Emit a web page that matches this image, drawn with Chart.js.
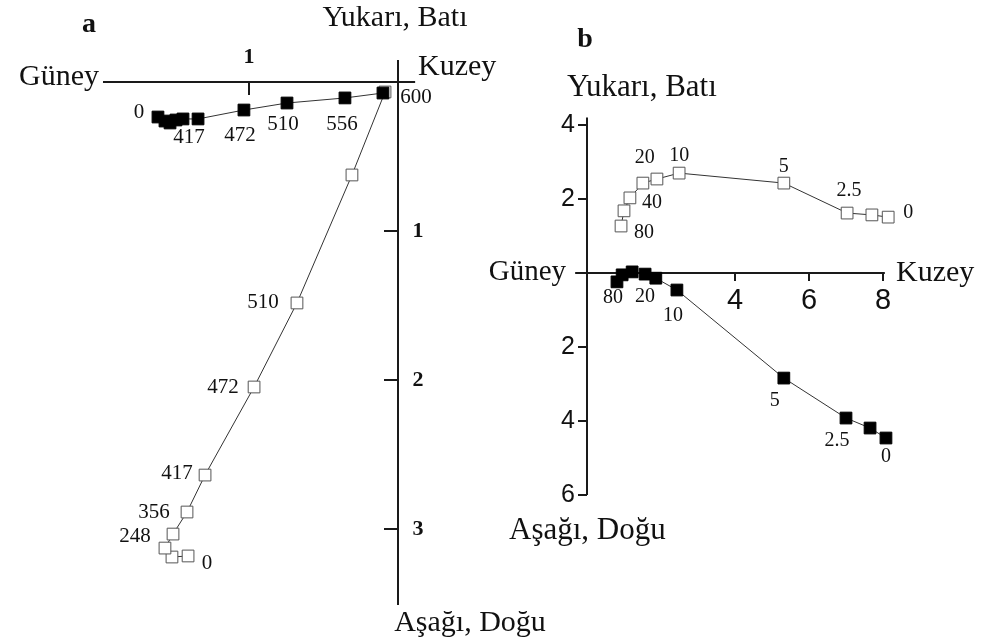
<!DOCTYPE html>
<html>
<head>
<meta charset="utf-8">
<script src="https://cdn.jsdelivr.net/npm/chart.js@4.4.1/dist/chart.umd.min.js"></script>
<style>
  body { margin: 0; background: #fff; }
  #wrap { position: relative; width: 981px; height: 640px; overflow: hidden; }
  canvas { position: absolute; left: 0; top: 0; }
</style>
</head>
<body>
<div id="wrap">
  <canvas id="chartA" width="981" height="640"></canvas>
  <canvas id="chartB" width="981" height="640"></canvas>
</div>
<script>
// a: termal temizleme (°C)
const aBlackLabels = ['0', '', '', '', '', '417', '472', '510', '556', '600'];
const aBlackN = [-1.611, -1.564, -1.530, -1.490, -1.443, -1.342, -1.034, -0.745, -0.356, -0.101];
const aBlackW = [-0.235, -0.262, -0.275, -0.255, -0.248, -0.248, -0.188, -0.141, -0.107, -0.074];
const aWhiteLabels = ['0', '', '', '248', '356', '417', '472', '510', '', ''];
const aWhiteN = [-1.409, -1.517, -1.564, -1.510, -1.416, -1.295, -0.966, -0.678, -0.309, -0.087];
const aWhiteUp = [-3.181, -3.188, -3.128, -3.034, -2.886, -2.638, -2.047, -1.483, -0.624, -0.067];
const aTicksH = [-1];
const aTicksV = [-1, -2, -3];

// b: AF temizleme (mT)
const bBlackLabels = ['0', '', '2.5', '5', '10', '', '20', '', '', '80'];
const bBlackN = [8.08, 7.65, 7.00, 5.32, 2.43, 1.86, 1.57, 1.22, 0.95, 0.81];
const bBlackW = [-4.46, -4.19, -3.92, -2.84, -0.46, -0.14, -0.03, 0.03, -0.05, -0.24];
const bWhiteLabels = ['0', '', '2.5', '5', '10', '', '20', '40', '', '80'];
const bWhiteN = [8.14, 7.70, 7.03, 5.32, 2.49, 1.89, 1.51, 1.16, 1.00, 0.92];
const bWhiteUp = [1.51, 1.57, 1.62, 2.43, 2.70, 2.54, 2.43, 2.03, 1.68, 1.27];
const bTicksH = [4, 6, 8];
const bTicksV = [4, 2, -2, -4, -6];

const SERIF = '"Liberation Serif", "DejaVu Serif", serif';
const SANS = '"Liberation Sans", Arial, sans-serif';

function pts(xs, ys) {
    return xs.map((x, i) => ({ x: x, y: ys[i] }));
}

// eksenler, etiketler ve başlıklar
const zijPlugin = {
    id: 'zij',
    beforeDatasetsDraw(chart, args, o) {
        const ctx = chart.ctx;
        const sx = chart.scales.x, sy = chart.scales.y;
        const ox = sx.getPixelForValue(0), oy = sy.getPixelForValue(0);
        ctx.save();
        ctx.strokeStyle = '#1a1a1a';
        ctx.lineWidth = 2;
        ctx.beginPath();
        ctx.moveTo(sx.getPixelForValue(o.hAxis[0]), oy);
        ctx.lineTo(sx.getPixelForValue(o.hAxis[1]), oy);
        ctx.moveTo(ox, sy.getPixelForValue(o.vAxis[0]));
        ctx.lineTo(ox, sy.getPixelForValue(o.vAxis[1]));
        o.hTicks.forEach(t => {
            const px = sx.getPixelForValue(t);
            ctx.moveTo(px, oy);
            ctx.lineTo(px, oy + o.hTickLen);
        });
        o.vTicks.forEach(t => {
            const py = sy.getPixelForValue(t);
            ctx.moveTo(ox, py);
            ctx.lineTo(ox + o.vTickLen, py);
        });
        ctx.stroke();
        ctx.restore();
    },
    afterDatasetsDraw(chart, args, o) {
        const ctx = chart.ctx;
        const sx = chart.scales.x, sy = chart.scales.y;
        const ox = sx.getPixelForValue(0), oy = sy.getPixelForValue(0);
        ctx.save();
        ctx.fillStyle = '#111';
        ctx.textBaseline = 'middle';

        // tick labels
        ctx.font = o.hTickFont;
        ctx.textAlign = 'center';
        o.hTicks.forEach(t => {
            ctx.fillText(String(Math.abs(t)), sx.getPixelForValue(t), oy + o.hTickLabelDy);
        });
        ctx.font = o.vTickFont;
        ctx.textAlign = o.vTickAlign;
        o.vTicks.forEach(t => {
            ctx.fillText(String(Math.abs(t)), ox + o.vTickLabelDx, sy.getPixelForValue(t));
        });

        // axis titles
        o.titles.forEach(t => {
            ctx.font = t.font;
            ctx.textAlign = t.align;
            ctx.fillText(t.text, t.x, t.y);
        });

        // step labels
        ctx.font = o.labelFont;
        ctx.textAlign = 'center';
        chart.data.datasets.forEach((ds, i) => {
            const meta = chart.getDatasetMeta(i);
            ds.stepLabels.forEach((lab, j) => {
                if (!lab) return;
                const el = meta.data[j];
                const off = ds.labelOffsets[lab] || [0, 0];
                ctx.fillText(lab, el.x + off[0], el.y + off[1]);
            });
        });
        ctx.restore();
    }
};

function makePanel(id, black, white, axes) {
    const ctx = document.getElementById(id).getContext('2d');
    return new Chart(ctx, {
        type: 'scatter',
        data: {
            datasets: [black, white].map(s => ({
                data: s.data,
                stepLabels: s.labels,
                labelOffsets: s.offsets,
                showLine: true,
                borderColor: '#333',
                borderWidth: 1,
                pointStyle: 'rect',
                pointRadius: 8.3,
                pointHoverRadius: 8.3,
                pointBackgroundColor: s.fill,
                pointBorderColor: s.fill === '#000' ? '#000' : '#555',
                pointBorderWidth: 1,
                clip: false
            }))
        },
        options: {
            responsive: false,
            animation: false,
            events: [],
            layout: { padding: axes.padding },
            plugins: {
                legend: { display: false },
                tooltip: { enabled: false },
                zij: axes
            },
            scales: {
                x: { type: 'linear', min: axes.xRange[0], max: axes.xRange[1], display: false },
                y: { type: 'linear', min: axes.yRange[0], max: axes.yRange[1], display: false }
            }
        },
        plugins: [zijPlugin]
    });
}

// a paneli
makePanel('chartA',
    {
        data: pts(aBlackN, aBlackW), labels: aBlackLabels, fill: '#000',
        offsets: { '0': [-19, -5], '417': [-9, 19], '472': [-4, 25], '510': [-4, 21], '556': [-3, 27], '600': [33, 4] }
    },
    {
        data: pts(aWhiteN, aWhiteUp), labels: aWhiteLabels, fill: '#fff',
        offsets: { '0': [19, 8], '248': [-38, 2], '356': [-33, 0], '417': [-28, -2], '472': [-31, 0], '510': [-34, 0] }
    },
    {
        padding: { left: 100, right: 553.2, top: 37.3, bottom: 21.6 },
        xRange: [-2, 0.2], yRange: [-3.6, 0.3],
        hAxis: [-1.98, 0.115], vAxis: [0.148, -3.51],
        hTicks: aTicksH, hTickLen: 13, hTickFont: 'bold 22px ' + SERIF, hTickLabelDy: -25,
        vTicks: aTicksV, vTickLen: -14, vTickFont: 'bold 22px ' + SERIF, vTickLabelDx: 20, vTickAlign: 'center',
        labelFont: '21px ' + SERIF,
        titles: [
            { text: 'a', x: 89, y: 25, align: 'center', font: 'bold 28px ' + SERIF },
            { text: 'Yukarı, Batı', x: 395, y: 18, align: 'center', font: '30px ' + SERIF },
            { text: 'Güney', x: 99, y: 77, align: 'right', font: '30px ' + SERIF },
            { text: 'Kuzey', x: 418, y: 67, align: 'left', font: '30px ' + SERIF },
            { text: 'Aşağı, Doğu', x: 470, y: 623, align: 'center', font: '30px ' + SERIF }
        ]
    }
);

// b paneli
makePanel('chartB',
    {
        data: pts(bBlackN, bBlackW), labels: bBlackLabels, fill: '#000',
        offsets: { '0': [0, 19], '2.5': [-9, 23], '5': [-9, 23], '10': [-4, 26], '20': [0, 23], '80': [-4, 16] }
    },
    {
        data: pts(bWhiteN, bWhiteUp), labels: bWhiteLabels, fill: '#fff',
        offsets: { '0': [20, -4], '2.5': [2, -22], '5': [0, -16], '10': [0, -17], '20': [2, -25], '40': [22, 5], '80': [23, 7] }
    },
    {
        padding: { left: 550, right: 42.5, top: 88, bottom: 108 },
        xRange: [-1, 9.5], yRange: [-7, 5],
        hAxis: [-0.32, 8.05], vAxis: [4.2, -6],
        hTicks: bTicksH, hTickLen: 8, hTickFont: '29px ' + SANS, hTickLabelDy: 28,
        vTicks: bTicksV, vTickLen: -9, vTickFont: '25px ' + SANS, vTickLabelDx: -12, vTickAlign: 'right',
        labelFont: '20px ' + SERIF,
        titles: [
            { text: 'b', x: 585, y: 40, align: 'center', font: 'bold 28px ' + SERIF },
            { text: 'Yukarı, Batı', x: 567, y: 88, align: 'left', font: '31px ' + SERIF },
            { text: 'Güney', x: 566, y: 272, align: 'right', font: '29px ' + SERIF },
            { text: 'Kuzey', x: 896, y: 273, align: 'left', font: '30px ' + SERIF },
            { text: 'Aşağı, Doğu', x: 509, y: 531, align: 'left', font: '31px ' + SERIF }
        ]
    }
);
</script>
</body>
</html>
